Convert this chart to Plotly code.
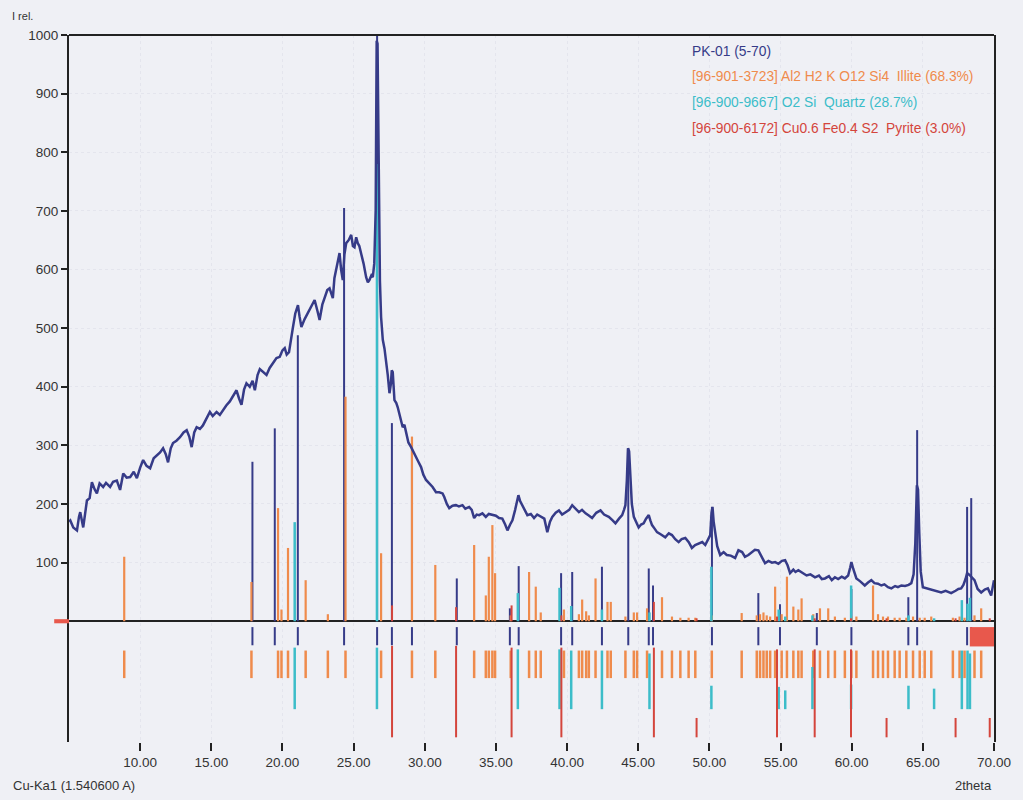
import plotly.graph_objects as go

# ---------------- measured pattern PK-01 (2theta, I rel.) ----------------
two_theta = [5.00, 5.09, 5.30, 5.56, 5.70, 5.79, 6.00, 6.26, 6.45, 6.61, 6.80, 6.96, 7.15, 7.40, 7.60, 7.89,
             8.10, 8.36, 8.59, 8.81, 9.05, 9.30, 9.55, 9.77, 10.00, 10.21, 10.45, 10.70, 10.95, 11.17, 11.40,
             11.61, 11.80, 11.96, 12.15, 12.31, 12.55, 12.80, 13.05, 13.27, 13.45, 13.62, 13.80, 13.97, 14.20,
             14.41, 14.65, 14.90, 15.10, 15.37, 15.60, 15.81, 16.05, 16.30, 16.55, 16.77, 16.95, 17.12, 17.30,
             17.47, 17.70, 17.90, 18.06, 18.25, 18.41, 18.65, 18.88, 19.10, 19.34, 19.58, 19.81, 20.00, 20.16,
             20.30, 20.46, 20.60, 20.74, 20.90, 21.09, 21.20, 21.33, 21.55, 21.79, 22.00, 22.26, 22.45, 22.61,
             22.80, 22.96, 23.15, 23.31, 23.54, 23.65, 23.78, 23.90, 24.01, 24.12, 24.24, 24.35, 24.48, 24.65,
             24.83, 24.95, 25.06, 25.18, 25.29, 25.40, 25.53, 25.70, 25.88, 26.00, 26.11, 26.25, 26.35, 26.45,
             26.55, 26.62, 26.68, 26.76, 26.85, 26.93, 27.05, 27.17, 27.28, 27.40, 27.52, 27.62, 27.68, 27.75,
             27.87, 28.00, 28.10, 28.25, 28.45, 28.57, 28.69, 28.85, 29.04, 29.20, 29.39, 29.55, 29.74, 29.90,
             30.09, 30.32, 30.55, 30.79, 31.02, 31.25, 31.37, 31.55, 31.72, 31.95, 32.19, 32.40, 32.65, 32.85,
             33.12, 33.30, 33.47, 33.65, 33.82, 34.05, 34.29, 34.50, 34.75, 35.00, 35.22, 35.45, 35.65, 35.81,
             36.00, 36.16, 36.35, 36.58, 36.70, 36.86, 37.05, 37.21, 37.45, 37.68, 37.90, 38.15, 38.40, 38.61,
             38.80, 38.96, 39.20, 39.43, 39.65, 39.90, 40.15, 40.36, 40.60, 40.83, 41.05, 41.30, 41.55, 41.76,
             42.05, 42.35, 42.60, 42.93, 43.20, 43.40, 43.65, 43.87, 44.00, 44.10, 44.20, 44.28, 44.36, 44.45,
             44.55, 44.69, 44.85, 45.03, 45.20, 45.38, 45.55, 45.74, 45.85, 45.97, 46.15, 46.32, 46.60, 46.90,
             47.15, 47.37, 47.60, 47.84, 48.05, 48.31, 48.55, 48.77, 49.00, 49.24, 49.50, 49.71, 49.90, 50.06,
             50.15, 50.22, 50.30, 50.41, 50.55, 50.76, 51.00, 51.22, 51.50, 51.81, 52.04, 52.30, 52.50, 52.74,
             53.00, 53.20, 53.44, 53.70, 53.91, 54.15, 54.40, 54.62, 54.85, 55.10, 55.32, 55.50, 55.67, 55.90,
             56.05, 56.25, 56.50, 56.83, 57.10, 57.42, 57.70, 57.90, 58.12, 58.40, 58.60, 58.82, 59.05, 59.30,
             59.52, 59.75, 59.90, 59.98, 60.10, 60.33, 60.60, 60.92, 61.15, 61.38, 61.60, 61.85, 62.08, 62.30,
             62.55, 62.79, 63.05, 63.25, 63.49, 63.75, 64.00, 64.19, 64.35, 64.47, 64.58, 64.66, 64.75, 64.85,
             65.00, 65.30, 65.59, 65.90, 66.29, 66.60, 66.99, 67.30, 67.50, 67.69, 67.85, 68.00, 68.11, 68.28,
             68.45, 68.63, 68.85, 69.10, 69.35, 69.57, 69.80, 69.90, 70.00]
intensity = [170, 172, 160, 155, 178, 186, 160, 206, 210, 237, 225, 218, 235, 229, 236, 229,
             238, 240, 224, 252, 245, 246, 255, 244, 262, 275, 265, 261, 278, 283, 288,
             295, 285, 271, 295, 304, 308, 314, 322, 326, 315, 297, 322, 331, 328,
             334, 345, 357, 350, 357, 352, 360, 368, 375, 385, 394, 380, 369, 395,
             406, 400, 410, 394, 420, 430, 425, 420, 432, 440, 449, 451, 462, 466,
             455, 459, 485, 502, 525, 539, 520, 502, 515, 526, 535, 548, 530, 514,
             540, 553, 565, 568, 551, 585, 599, 615, 628, 600, 582, 625, 645, 650,
             659, 640, 638, 655, 645, 640, 628, 610, 587, 578, 582, 590, 587, 610,
             700, 990, 985, 760, 580, 519, 480, 465, 445, 420, 389, 405, 428, 425,
             377, 372, 365, 350, 331, 335, 321, 305, 297, 290, 280, 272, 263, 250,
             241, 235, 229, 220, 220, 218, 212, 200, 193, 197, 198, 196, 198, 192,
             195, 190, 176, 182, 181, 184, 178, 183, 181, 180, 176, 175, 165, 155,
             165, 172, 190, 215, 205, 198, 190, 181, 183, 176, 182, 178, 175, 152,
             170, 178, 185, 189, 182, 186, 190, 198, 192, 186, 190, 184, 180, 176,
             185, 189, 182, 178, 172, 167, 175, 181, 190, 198, 240, 295, 290, 252,
             200, 178, 168, 160, 165, 167, 175, 181, 172, 164, 158, 152, 148, 143,
             150, 147, 140, 135, 140, 142, 135, 125, 130, 133, 135, 130, 138, 147,
             185, 195, 170, 150, 128, 113, 118, 113, 112, 108, 121, 118, 110, 113,
             118, 122, 121, 108, 99, 103, 100, 101, 98, 103, 104, 95, 82, 88,
             84, 87, 83, 78, 80, 75, 78, 72, 73, 77, 70, 75, 72, 76,
             73, 78, 92, 101, 90, 73, 68, 61, 66, 70, 65, 64, 61, 63,
             58, 56, 60, 58, 61, 60, 62, 65, 80, 133, 232, 225, 150, 85,
             58, 56, 53, 52, 49, 52, 48, 52, 55, 56, 62, 72, 82, 79,
             75, 70, 55, 49, 54, 56, 44, 60, 70]

# ---------------- peak list of the measured pattern ----------------
peak_pos = [17.89, 19.46, 21.08, 24.33, 26.65, 27.69, 29.10, 32.25, 35.98, 36.60, 39.58, 40.36,
            42.45, 44.30, 45.74, 46.04, 50.18, 53.44, 54.96, 57.55, 59.98, 63.98, 64.60, 68.11, 68.40]
peak_height = [272, 329, 488, 705, 1000, 338, 300, 73, 22, 94, 82, 84,
               93, 295, 90, 61, 195, 48, 29, 14, 55, 41, 326, 195, 210]

# ---------------- Illite [96-901-3723] ----------------
illite_pos = [8.88, 17.82, 19.69, 19.93, 20.39, 21.63, 23.19, 24.43, 26.93, 29.10, 30.74, 33.47,
              34.29, 34.50, 34.75, 34.94, 36.04, 37.33, 37.80, 38.15, 39.78, 40.83, 41.06, 41.34,
              41.53, 42.00, 42.84, 43.07, 44.10, 44.69, 44.92, 45.62, 46.67, 47.37, 47.96, 48.54,
              49.01, 50.17, 52.27, 53.33, 53.56, 53.80, 54.03, 54.27, 54.62, 55.08, 55.45, 55.90,
              56.25, 56.48, 57.30, 57.77, 58.35, 58.82, 59.52, 59.98, 60.33, 61.50, 61.85, 62.20,
              62.55, 63.02, 63.37, 63.84, 64.31, 64.78, 65.13, 65.59, 67.11, 67.58, 67.93, 68.63, 69.10]
illite_height = [110, 67, 193, 20, 125, 70, 12, 383, 116, 315, 96, 130,
                 44, 110, 164, 82, 10, 84, 59, 15, 20, 12, 37, 17,
                 10, 73, 33, 33, 8, 15, 15, 22, 41, 8, 6, 6,
                 6, 10, 14, 10, 12, 15, 10, 8, 59, 12, 76, 25,
                 20, 39, 12, 22, 22, 8, 6, 8, 8, 61, 12, 8,
                 8, 6, 6, 6, 8, 6, 6, 8, 6, 8, 6, 10, 22]

# ---------------- Quartz [96-900-9667] ----------------
quartz_pos = [20.86, 26.64, 36.54, 39.47, 40.29, 42.45, 45.79, 50.14, 54.87, 55.33, 57.24,
              59.96, 63.99, 65.79, 67.74, 68.14, 68.31]
quartz_height = [169, 780, 48, 57, 26, 20, 15, 93, 20, 8, 10,
                 61, 10, 5, 36, 30, 40]
quartz_mark_top = [-45, -45, -48, -48, -50, -50, -55, -110, -112, -118, -78,
                   -108, -110, -115, -50, -50, -55]

# ---------------- Pyrite [96-900-6172] ----------------
pyrite_pos = [27.70, 32.20, 36.10, 39.60, 46.10, 49.10, 54.75, 57.40, 59.95, 62.45, 67.30, 69.70]
pyrite_height = [27, 24, 27, 10, 33, 5, 8, 5, 5, 5, 5, 5]
pyrite_mark_top = [-42, -42, -45, -45, -45, -165, -48, -48, -48, -165, -165, -165]

x_ticks = [10, 15, 20, 25, 30, 35, 40, 45, 50, 55, 60, 65, 70]
y_ticks = [100, 200, 300, 400, 500, 600, 700, 800, 900, 1000]

legend_lines = ["PK-01 (5-70)",
                "[96-901-3723] Al2 H2 K O12 Si4  Illite (68.3%)",
                "[96-900-9667] O2 Si  Quartz (28.7%)",
                "[96-900-6172] Cu0.6 Fe0.4 S2  Pyrite (3.0%)"]

NAVY = "#363b88"
ORANGE = "#ef8b4c"
CYAN = "#3cbdc9"
RED = "#d4453c"
BG = "#eff0f5"
FONT = "Liberation Sans, Arial, sans-serif"


def sticks(xs, bottoms, tops):
    sx, sy = [], []
    for x, b, t in zip(xs, bottoms, tops):
        sx += [x, x, None]
        sy += [b, t, None]
    return sx, sy


fig = go.Figure()

def add_sticks(xs, bottoms, tops, color, width):
    sx, sy = sticks(xs, bottoms, tops)
    fig.add_trace(go.Scatter(x=sx, y=sy, mode="lines", line=dict(color=color, width=width),
                             hoverinfo="skip", showlegend=False))

# peak list sticks and markers
add_sticks(peak_pos, [0] * len(peak_pos), peak_height, NAVY, 2)
add_sticks(peak_pos, [-10] * len(peak_pos), [-41] * len(peak_pos), NAVY, 2)
# illite
add_sticks(illite_pos, [0] * len(illite_pos), illite_height, ORANGE, 2.2)
add_sticks(illite_pos, [-50] * len(illite_pos), [-97] * len(illite_pos), ORANGE, 2.5)
# quartz
add_sticks(quartz_pos, [0] * len(quartz_pos), quartz_height, CYAN, 2.5)
add_sticks(quartz_pos, [-150] * len(quartz_pos), quartz_mark_top, CYAN, 2.5)
# pyrite
add_sticks(pyrite_pos, [0] * len(pyrite_pos), pyrite_height, RED, 2)
add_sticks(pyrite_pos, [-198] * len(pyrite_pos), pyrite_mark_top, RED, 2)

# measured pattern
fig.add_trace(go.Scatter(x=two_theta, y=intensity, mode="lines",
                         line=dict(color=NAVY, width=2.5), showlegend=False, hoverinfo="skip"))

# frame top line and marker swatches
fig.add_shape(type="line", xref="paper", yref="paper", x0=0, x1=1, y0=1, y1=1,
              line=dict(color="#222222", width=2))
fig.add_shape(type="rect", xref="x", yref="y", x0=68.3, x1=70, y0=-10, y1=-43,
              line=dict(width=0), fillcolor="#e8584c")
fig.add_shape(type="rect", xref="paper", yref="y", x0=-0.016, x1=0, y0=-3.5, y1=3.5,
              line=dict(width=0), fillcolor="#e8584c")

legend_colors = [NAVY, ORANGE, CYAN, RED]
legend_y = [0.976, 0.941, 0.905, 0.868]
for txt, col, yy in zip(legend_lines, legend_colors, legend_y):
    fig.add_annotation(text=txt, xref="paper", yref="paper", x=0.671, y=yy,
                       xanchor="left", yanchor="middle", showarrow=False,
                       font=dict(family=FONT, size=13.8, color=col))

fig.add_annotation(text="I rel.", xref="paper", yref="paper", x=-0.064, y=1.0385,
                   xanchor="left", yanchor="top", showarrow=False,
                   font=dict(family=FONT, size=11, color="#333333"))
fig.add_annotation(text="Cu-Ka1 (1.540600 A)", xref="paper", yref="paper", x=-0.063, y=-0.061,
                   xanchor="left", yanchor="middle", showarrow=False,
                   font=dict(family=FONT, size=13, color="#333333"))
fig.add_annotation(text="2theta", xref="paper", yref="paper", x=1.0, y=-0.061,
                   xanchor="right", yanchor="middle", showarrow=False,
                   font=dict(family=FONT, size=13, color="#333333"))

fig.update_layout(
    width=1023, height=800,
    margin=dict(l=69, r=26, t=35, b=58),
    paper_bgcolor=BG, plot_bgcolor=BG,
    font=dict(family=FONT, size=13.5, color="#333333"),
    xaxis=dict(range=[5, 70], tickvals=x_ticks, ticktext=[f"{v:.2f}" for v in x_ticks],
               showline=False, ticks="outside", ticklen=8, tickwidth=2, tickcolor="#222222",
               showgrid=True, gridcolor="#e4e5ed", griddash="dot", gridwidth=1,
               zeroline=False, tickfont=dict(size=13.5, color="#333333")),
    yaxis=dict(range=[-206, 1000], tickvals=y_ticks, showline=True, linecolor="#222222",
               linewidth=2, mirror=True, ticks="outside", ticklen=6, tickwidth=1.5,
               tickcolor="#222222", showgrid=True, gridcolor="#e4e5ed", griddash="dot",
               gridwidth=1, zeroline=True, zerolinecolor="#222222", zerolinewidth=2,
               tickfont=dict(size=13.5, color="#333333")),
)

# remove the default page margin so the 1023x800 figure fills the window exactly
fig.write_html("out.html", config={"displayModeBar": False},
               post_script="document.body.style.margin='0px';document.body.style.overflow='hidden';")
